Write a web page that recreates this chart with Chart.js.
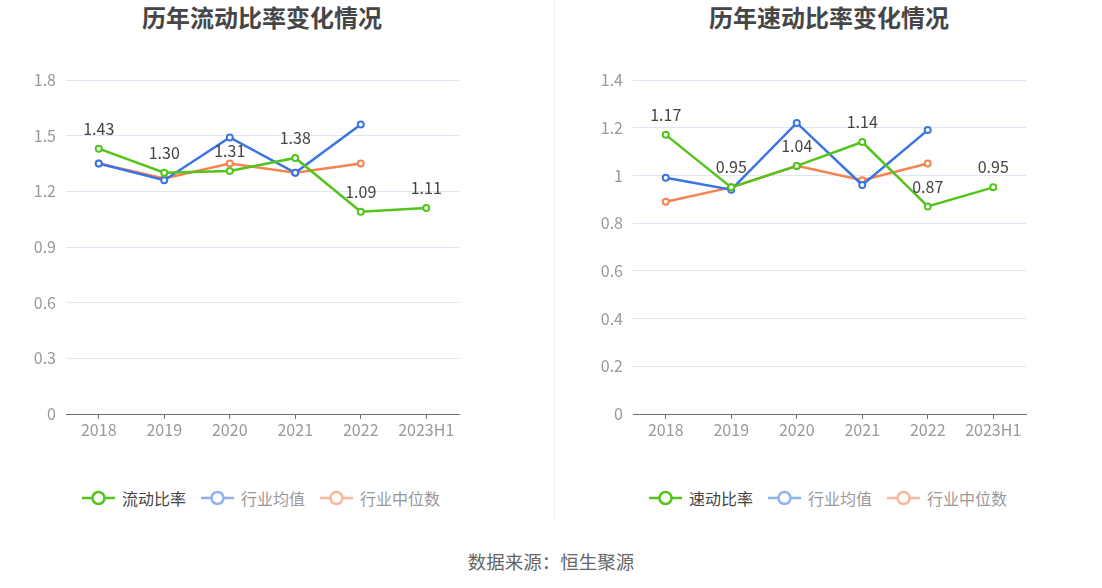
<!DOCTYPE html>
<html><head><meta charset="utf-8">
<script src="https://cdn.jsdelivr.net/npm/chart.js@4.4.0/dist/chart.umd.min.js"></script>
<style>
html,body{margin:0;padding:0;background:#fff;width:1102px;height:588px;overflow:hidden;font-family:"Noto Sans CJK SC","Noto Sans",sans-serif;}
.box{position:absolute;}
.title{position:absolute;top:0;font-size:24px;font-weight:bold;color:#464646;text-align:center;line-height:34px;}
.legend{position:absolute;top:486px;display:flex;align-items:center;font-size:16px;line-height:24px;}
.item{display:flex;align-items:center;margin-right:15px;}
.item svg{margin-right:7px;}
.src{position:absolute;top:548px;left:0;width:1102px;text-align:center;font-size:18.5px;color:#666;}
.divider{position:absolute;left:554px;top:0;width:1px;height:518px;background:#eeeeee;}
</style></head>
<body>
<div class="title" style="left:62px;width:400px;">历年流动比率变化情况</div>
<div class="title" style="left:629px;width:400px;">历年速动比率变化情况</div>
<div class="box" style="left:0;top:0;width:551px;height:450px;"><canvas id="c1" width="551" height="450"></canvas></div>
<div class="box" style="left:567px;top:0;width:535px;height:450px;"><canvas id="c2" width="535" height="450"></canvas></div>
<div class="divider"></div>
<div class="legend" id="lg1" style="left:82px;"></div>
<div class="legend" id="lg2" style="left:649px;"></div>
<div class="src">数据来源：恒生聚源</div>
<script>
const categories = ["2018","2019","2020","2021","2022","2023H1"];
const currentRatio = [1.43,1.30,1.31,1.38,1.09,1.11];
const currentIndustryMean = [1.35,1.26,1.49,1.30,1.56,null];
const currentIndustryMedian = [1.35,1.27,1.35,1.30,1.35,null];
const quickRatio = [1.17,0.95,1.04,1.14,0.87,0.95];
const quickIndustryMean = [0.99,0.94,1.22,0.96,1.19,null];
const quickIndustryMedian = [0.89,0.95,1.04,0.98,1.05,null];
const leftNames = ["流动比率","行业均值","行业中位数"];
const rightNames = ["速动比率","行业均值","行业中位数"];

const GREEN="#52c41a", BLUE="#3b74e3", ORANGE="#f5834f";
const FONT='"Noto Sans CJK SC","Noto Sans",sans-serif';

const labelPlugin = {
  id:'valLabels',
  afterDatasetsDraw(chart){
    const ctx=chart.ctx; const meta=chart.getDatasetMeta(0); const ds=chart.data.datasets[0];
    ctx.save(); ctx.font='16px '+FONT; ctx.fillStyle='#444'; ctx.textAlign='center'; ctx.textBaseline='middle';
    meta.data.forEach((pt,i)=>{ if(ds.data[i]==null) return; ctx.fillText(ds.data[i].toFixed(2), pt.x, pt.y-20); });
    ctx.restore();
  }
};

function ds(label,data,color){
  return {label,data,borderColor:color,backgroundColor:'#fff',pointBackgroundColor:'#fff',pointBorderColor:color,
    pointRadius:3,pointBorderWidth:2,borderWidth:2.5,tension:0,spanGaps:false,pointHoverRadius:3};
}

function make(id,names,main,mean,median,max,step,padRight){
  new Chart(document.getElementById(id),{
    type:'line',
    data:{labels:categories,datasets:[ds(names[0],main,GREEN),ds(names[1],mean,BLUE),ds(names[2],median,ORANGE)]},
    options:{
      responsive:false,animation:false,
      layout:{padding:{top:80,right:padRight,left:0,bottom:0}},
      plugins:{legend:{display:false},tooltip:{enabled:false}},
      scales:{
        x:{offset:true,
          grid:{display:true,drawOnChartArea:false,drawTicks:true,tickLength:5,offset:false,color:'#6e7079'},
          border:{display:true,color:'#6e7079',width:1},
          ticks:{color:'#999',font:{size:16,family:FONT},padding:1,maxRotation:0,autoSkip:false},
          afterFit(s){s.height=36;}
        },
        y:{min:0,max:max,
          ticks:{stepSize:step,color:'#999',font:{size:16,family:FONT},padding:10,
            callback:(v)=>String(Number(v.toFixed(2)))},
          grid:{color:'#e0e6f1',drawTicks:false},
          border:{display:false},
          afterFit(s){s.width=66;}
        }
      }
    },
    plugins:[labelPlugin]
  });
}
make('c1',leftNames,currentRatio,currentIndustryMean,currentIndustryMedian,1.8,0.3,92);
make('c2',rightNames,quickRatio,quickIndustryMean,quickIndustryMedian,1.4,0.2,76);

function legend(id,names){
  const el=document.getElementById(id);
  const cols=[GREEN,"#8fb2f0","#f9b79b"]; const tc=["#444","#999","#999"];
  names.forEach((n,i)=>{
    const d=document.createElement('div'); d.className='item';
    d.innerHTML='<svg width="33" height="16"><line x1="0" y1="8" x2="33" y2="8" stroke="'+cols[i]+'" stroke-width="2.5"/><circle cx="16.5" cy="8" r="6" fill="#fff" stroke="'+cols[i]+'" stroke-width="2.5"/></svg><span style="color:'+tc[i]+'">'+n+'</span>';
    el.appendChild(d);
  });
}
legend('lg1',leftNames); legend('lg2',rightNames);
</script>
</body></html>
